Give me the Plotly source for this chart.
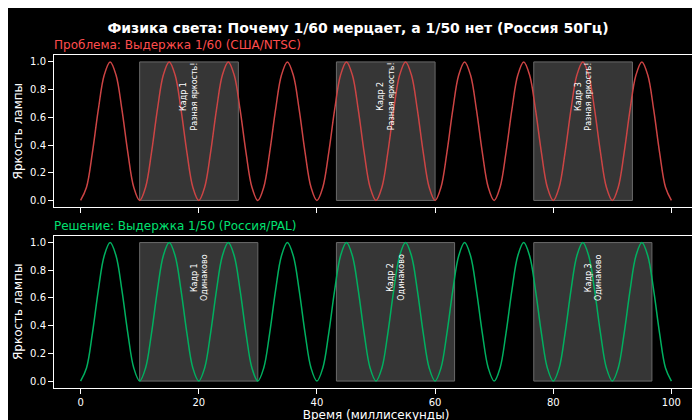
import plotly.graph_objects as go
from plotly.subplots import make_subplots

# time in milliseconds, lamp brightness every 1 ms
time_ms = list(range(0, 101))
brightness = [
    0.0, 0.095, 0.345, 0.655, 0.905, 1.0, 0.905, 0.655, 0.345, 0.095,
    0.0, 0.095, 0.345, 0.655, 0.905, 1.0, 0.905, 0.655, 0.345, 0.095,
    0.0, 0.095, 0.345, 0.655, 0.905, 1.0, 0.905, 0.655, 0.345, 0.095,
    0.0, 0.095, 0.345, 0.655, 0.905, 1.0, 0.905, 0.655, 0.345, 0.095,
    0.0, 0.095, 0.345, 0.655, 0.905, 1.0, 0.905, 0.655, 0.345, 0.095,
    0.0, 0.095, 0.345, 0.655, 0.905, 1.0, 0.905, 0.655, 0.345, 0.095,
    0.0, 0.095, 0.345, 0.655, 0.905, 1.0, 0.905, 0.655, 0.345, 0.095,
    0.0, 0.095, 0.345, 0.655, 0.905, 1.0, 0.905, 0.655, 0.345, 0.095,
    0.0, 0.095, 0.345, 0.655, 0.905, 1.0, 0.905, 0.655, 0.345, 0.095,
    0.0, 0.095, 0.345, 0.655, 0.905, 1.0, 0.905, 0.655, 0.345, 0.095,
    0.0,
]
frame_starts = [10.0, 43.3, 76.7]
exposure_ntsc = 16.7
exposure_pal = 20.0
frame_labels = ["Кадр 1", "Кадр 2", "Кадр 3"]
note_ntsc = "Разная яркость!"
note_pal = "Одинаково"

RED = "#ff4d4d"
GREEN = "#00e070"

fig = make_subplots(rows=2, cols=1, vertical_spacing=0.085)
fig.update_layout(
    width=700, height=420, paper_bgcolor="black", plot_bgcolor="black",
    margin=dict(l=46, r=10, t=47, b=40, autoexpand=False), showlegend=False,
    font=dict(family="DejaVu Sans", color="white", size=10),
    title=dict(text="<b>Физика света: Почему 1/60 мерцает, а 1/50 нет (Россия 50Гц)</b>",
               x=0.5, y=0.965, xanchor="center", font=dict(size=14)),
)

panels = [
    (1, exposure_ntsc, note_ntsc, "#cc4444", RED, "Проблема: Выдержка 1/60 (США/NTSC)"),
    (2, exposure_pal, note_pal, "#00b060", GREEN, "Решение: Выдержка 1/50 (Россия/PAL)"),
]
for row, width, note, line_color, title_color, title in panels:
    fig.add_trace(go.Scatter(x=time_ms, y=brightness, mode="lines",
                             line=dict(color=line_color, width=1.5, shape="spline")),
                  row=row, col=1)
    xref = "x" if row == 1 else "x2"
    yref = "y" if row == 1 else "y2"
    for start, label in zip(frame_starts, frame_labels):
        fig.add_shape(type="rect", x0=start, x1=start + width, y0=0, y1=1,
                      xref=xref, yref=yref, fillcolor="#363636",
                      line=dict(color="#6a6a6a", width=1), layer="below")
        fig.add_annotation(x=start + width / 2, y=0.75, xref=xref, yref=yref,
                           text=f"{label}<br>{note}", showarrow=False, textangle=-90,
                           font=dict(size=8, color="white"))
    fig.add_annotation(x=0, y=1, xref=f"{xref} domain", yref=f"{yref} domain",
                       xanchor="left", yanchor="bottom", showarrow=False,
                       text=title, font=dict(size=12, color=title_color), xshift=-2, yshift=1)

axis_style = dict(showline=True, mirror=True, linecolor="white", ticks="outside",
                  tickcolor="white", showgrid=False, zeroline=False)
fig.update_xaxes(range=[-4.5, 104.5], tickvals=[0, 20, 40, 60, 80, 100], **axis_style)
fig.update_xaxes(showticklabels=False, row=1, col=1)
fig.update_xaxes(title=dict(text="Время (миллисекунды)", standoff=2), row=2, col=1)
fig.update_yaxes(range=[-0.05, 1.05], tickvals=[0, 0.2, 0.4, 0.6, 0.8, 1.0],
                 tickformat=".1f", title=dict(text="Яркость лампы", standoff=4), **axis_style)

fig.write_html("out.html")
